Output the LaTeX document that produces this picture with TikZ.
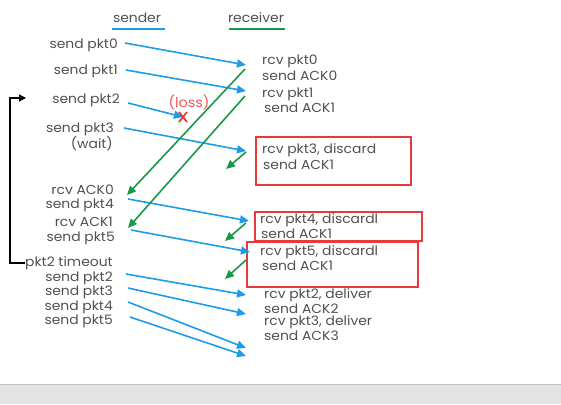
\documentclass[tikz,border=0pt]{standalone}
\usepackage{fontspec}
\setmainfont{Poppins}[FakeStretch=1.07]
\usetikzlibrary{arrows.meta}
\definecolor{txt}{HTML}{505050}
\definecolor{bl}{HTML}{1E9BE6}
\definecolor{gr}{HTML}{18994A}
\definecolor{rd}{HTML}{E83A3A}
\definecolor{lossc}{HTML}{EA5A5A}
\tikzset{
  lbl/.style={inner sep=0pt, text=txt, font=\fontsize{13}{14}\selectfont},
  sl/.style={lbl, anchor=east},
  rl/.style={lbl, anchor=west},
  pkt/.style={draw=bl, line width=1.6pt, -{Triangle[length=9pt,width=8pt]}},
  ack/.style={draw=gr, line width=1.6pt, -{Triangle[length=9pt,width=8pt]}},
  redbox/.style={draw=rd, line width=1.1pt},
}
\begin{document}
\begin{tikzpicture}[x=1pt,y=-1pt]
\useasboundingbox (0,0) rectangle (561,404);
% bottom grey band
\fill[fill={rgb,255:red,227;green,227;blue,227}] (0,384) rectangle (561,404);
\draw[draw={rgb,255:red,192;green,192;blue,192}, line width=1pt] (0,384) -- (561,384);
% headers
\node[lbl] (snd) at (137,18) {sender};
\node[lbl] (rcv) at (256,18) {receiver};
\draw[bl, line width=1.8pt] (112,29) -- (165,29);
\draw[gr, line width=1.8pt] (229,29) -- (285,29);
% sender labels
\node[sl] (s0) at (118,45) {send pkt0};
\node[sl] (s1) at (118,71) {send pkt1};
\node[sl] (s2) at (120,100) {send pkt2};
\node[sl] (s3) at (114,129) {send pkt3};
\node[sl] (w3) at (113,144) {(wait)};
\node[sl] (a0) at (114,190) {rcv ACK0};
\node[sl] (s4) at (114,205) {send pkt4};
\node[sl] (a1) at (113,222) {rcv ACK1};
\node[sl] (s5) at (115,238) {send pkt5};
\node[sl] (to) at (113,263) {pkt2 timeout};
\node[sl] (r2) at (113,278) {send pkt2};
\node[sl] (r3) at (113,292) {send pkt3};
\node[sl] (r4) at (113,307) {send pkt4};
\node[sl] (r5) at (113,321) {send pkt5};
% receiver labels
\node[rl] (p0) at (262,61) {rcv pkt0};
\node[rl] (k0) at (262,76) {send ACK0};
\node[rl] (p1) at (262,94) {rcv pkt1};
\node[rl] (k1) at (264,108) {send ACK1};
\node[rl] (p3) at (262,150) {rcv pkt3, discard};
\node[rl] (k3) at (263,165) {send ACK1};
\node[rl] (p4) at (260,220) {rcv pkt4, discardl};
\node[rl] (k4) at (261,234) {send ACK1};
\node[rl] (p5) at (260,252) {rcv pkt5, discardl};
\node[rl] (k5) at (262,266) {send ACK1};
\node[rl] (d2) at (264,295) {rcv pkt2, deliver};
\node[rl] (k6) at (264,309) {send ACK2};
\node[rl] (d3) at (264,322) {rcv pkt3, deliver};
\node[rl] (k7) at (264,336) {send ACK3};
% red boxes
\draw[redbox] (256,137) rectangle (411,185);
\draw[redbox] (255,212) rectangle (422,241);
\draw[redbox] (247,242) rectangle (418,287);
% endpoints
\coordinate (e0) at (246,65);
\coordinate (e1) at (246,91);
\coordinate (ex) at (183,117);
\coordinate (e3) at (246,151);
\coordinate (e4) at (249,221);
\coordinate (e5) at (250,252);
\coordinate (f2) at (246,295);
\coordinate (f3) at (246,314);
\coordinate (f4) at (246,348);
\coordinate (f5) at (246,356);
% blue packets
\draw[pkt] (s0.east)++(7,-2) -- (e0);
\draw[pkt] (s1.east)++(8,-1) -- (e1);
\draw[pkt] (s2.east)++(8,3) -- (ex);
\draw[pkt] (s3.east)++(10,-1) -- (e3);
\draw[pkt] (s4.east)++(14,-6) -- (e4);
\draw[pkt] (s5.east)++(16,-8) -- (e5);
\draw[pkt] (r2.east)++(13,-4) -- (f2);
\draw[pkt] (r3.east)++(15,-4) -- (f3);
\draw[pkt] (r4.east)++(15,-5) -- (f4);
\draw[pkt] (r5.east)++(17,-4) -- (f5);
% loss
\node[inner sep=0pt, text=lossc, font=\fontsize{13.5}{15}\selectfont] (loss) at (189,102) {(loss)};
\draw[rd, line width=1.8pt] (ex)++(-4,-5) -- ++(8,10) (ex)++(4,-5) -- ++(-8,10);
% green acks
\coordinate (g0s) at (245,69);
\coordinate (g0e) at (127,195);
\coordinate (g1s) at (245,96);
\coordinate (g1e) at (128,228);
\coordinate (g3s) at (246,152);
\coordinate (g3e) at (226,169);
\coordinate (g4s) at (246,223);
\coordinate (g4e) at (225,241);
\coordinate (g5s) at (246,260);
\coordinate (g5e) at (225,279);
\draw[ack] (g0s) -- (g0e);
\draw[ack] (g1s) -- (g1e);
\draw[ack] (g3s) -- (g3e);
\draw[ack] (g4s) -- (g4e);
\draw[ack] (g5s) -- (g5e);
% timeout bracket
\coordinate (bt) at (10,98);
\coordinate (bb) at (10,263);
\draw[line width=1.3pt, black, -{Triangle[length=7pt,width=7pt]}] (to.west) -- (bb) -- (bt) -- (26,98);
\end{tikzpicture}
\end{document}
